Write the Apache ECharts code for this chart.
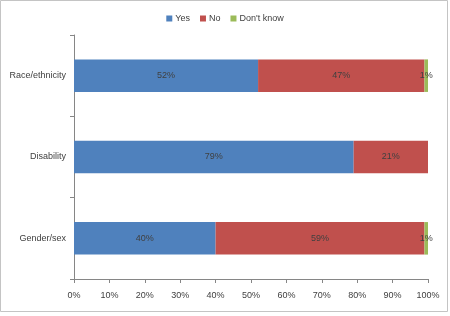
<!DOCTYPE html>
<html>
<head>
<meta charset="utf-8">
<script src="https://cdn.jsdelivr.net/npm/echarts@6/dist/echarts.min.js"></script>
<style>
html,body{margin:0;padding:0;background:#fff;}
#c{width:450px;height:316px;}
</style>
</head>
<body>
<div id="c"></div>
<script>
var categories = ['Gender/sex', 'Disability', 'Race/ethnicity'];
var yesValues = [40, 79, 52];
var noValues = [59, 21, 47];
var dkValues = [1, 0, 1];
var xTicks = [0, 10, 20, 30, 40, 50, 60, 70, 80, 90, 100];

var font = 'Liberation Sans, Arial, sans-serif';
function lbl() {
  return {
    show: true, position: 'inside', color: '#404040', fontSize: 9, fontFamily: font,
    formatter: function (p) { return p.value > 0 ? p.value + '%' : ''; }
  };
}
var chart = echarts.init(document.getElementById('c'), null, {renderer: 'canvas'});
chart.setOption({
  animation: false,
  backgroundColor: '#fff',
  graphic: [{
    type: 'rect', silent: true, z: -1,
    shape: {x: 0.5, y: 0.5, width: 447, height: 311},
    style: {fill: 'none', stroke: '#c4c4c4', lineWidth: 1}
  }],
  legend: {
    top: 9, left: 'center', itemWidth: 6, itemHeight: 6, itemGap: 10,
    icon: 'rect',
    textStyle: {fontSize: 9, color: '#404040', fontFamily: font, padding: [0, 0, 0, -2]},
    data: ['Yes', 'No', "Don't know"]
  },
  grid: {left: 74, right: 22, top: 35, bottom: 37, containLabel: false},
  xAxis: {
    type: 'value', min: 0, max: 100, interval: 10,
    axisLine: {show: true, lineStyle: {color: '#868686'}},
    axisTick: {show: true, length: 4, lineStyle: {color: '#868686'}},
    splitLine: {show: false},
    axisLabel: {color: '#404040', fontSize: 9, fontFamily: font, margin: 12,
      formatter: function (v) { return xTicks.indexOf(v) >= 0 ? v + '%' : ''; }}
  },
  yAxis: {
    type: 'category', data: categories,
    axisLine: {show: true, lineStyle: {color: '#868686'}},
    axisTick: {show: true, length: 4, lineStyle: {color: '#868686'}},
    axisLabel: {color: '#404040', fontSize: 9, fontFamily: font, margin: 8}
  },
  series: [
    {name: 'Yes', type: 'bar', stack: 't', data: yesValues, barWidth: '40%',
      itemStyle: {color: '#4F81BD'}, label: lbl()},
    {name: 'No', type: 'bar', stack: 't', data: noValues, barWidth: '40%',
      itemStyle: {color: '#C0504D'}, label: lbl()},
    {name: "Don't know", type: 'bar', stack: 't', data: dkValues, barWidth: '40%',
      itemStyle: {color: '#9BBB59'}, label: lbl()}
  ]
});
</script>
</body>
</html>
